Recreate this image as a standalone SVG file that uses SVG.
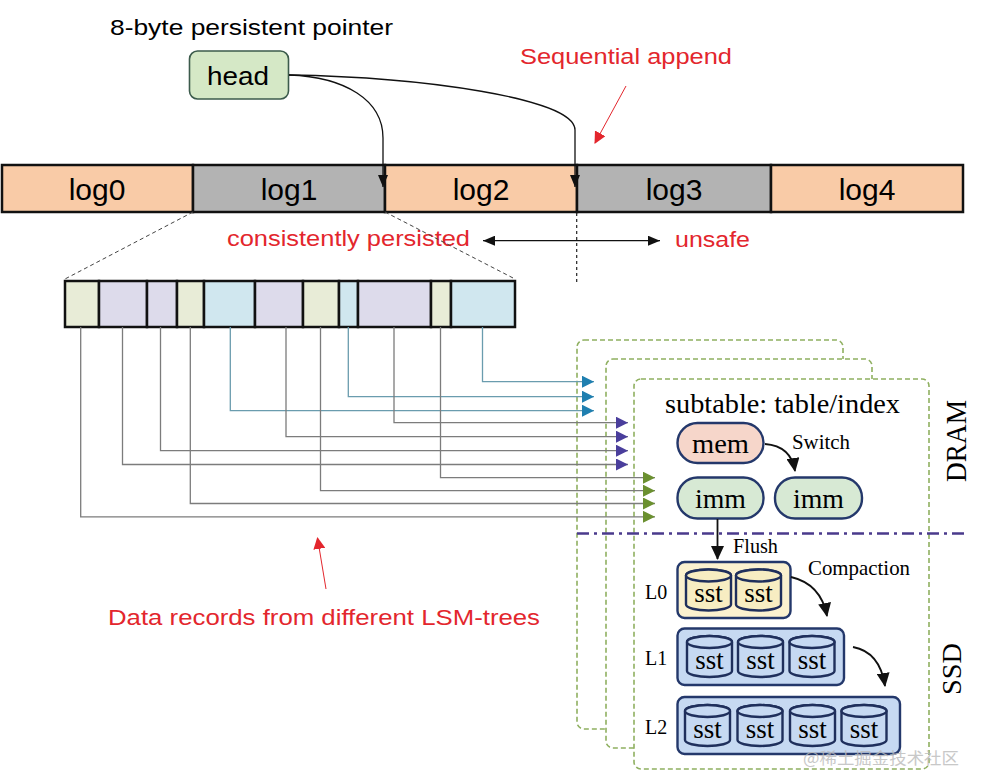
<svg xmlns="http://www.w3.org/2000/svg" width="984" height="784" viewBox="0 0 984 784">
<style>
.sans{font-family:"Liberation Sans","DejaVu Sans",sans-serif}
.serif{font-family:"Liberation Serif","DejaVu Serif",serif}
.red{fill:#e3262d}
.log{stroke:#111;stroke-width:2.5}
.peach{fill:#f9cba7}
.gray{fill:#b3b3b3}
.cell{stroke:#111;stroke-width:2.5}
.panel{fill:#fff;stroke:#8fb060;stroke-width:1.6;stroke-dasharray:5 3}
.conn{fill:none;stroke-width:1.3}
.tealc{stroke:#6a9cae}
.grayc{stroke:#7c7c7c}
.box{stroke:#24386b;stroke-width:2.4}
.cyl{stroke:#1f2f5c;stroke-width:2.4}
.blk{fill:none;stroke:#111;stroke-width:1.8}
</style>
<defs>
<marker id="mTeal" markerUnits="userSpaceOnUse" markerWidth="12" markerHeight="12" refX="12" refY="6" orient="auto"><path d="M0,0 L12,6 L0,12 Z" fill="#1f7fb0"/></marker>
<marker id="mPurple" markerUnits="userSpaceOnUse" markerWidth="12" markerHeight="12" refX="12" refY="6" orient="auto"><path d="M0,0 L12,6 L0,12 Z" fill="#4a3e9c"/></marker>
<marker id="mGreen" markerUnits="userSpaceOnUse" markerWidth="12" markerHeight="12" refX="12" refY="6" orient="auto"><path d="M0,0 L12,6 L0,12 Z" fill="#6b9030"/></marker>
<marker id="mBlack" markerUnits="userSpaceOnUse" markerWidth="12" markerHeight="10" refX="12" refY="5" orient="auto"><path d="M0,0 L12,5 L0,10 Z" fill="#111"/></marker>
<marker id="mBig" markerUnits="userSpaceOnUse" markerWidth="14" markerHeight="13" refX="13" refY="6.5" orient="auto"><path d="M0,0 L14,6.5 L0,13 Z" fill="#111"/></marker>
<marker id="mDbl" markerUnits="userSpaceOnUse" markerWidth="12" markerHeight="10" refX="12" refY="5" orient="auto-start-reverse"><path d="M0,0 L12,5 L0,10 Z" fill="#111"/></marker>
<marker id="mRed" markerUnits="userSpaceOnUse" markerWidth="12" markerHeight="12" refX="11" refY="6" orient="auto"><path d="M0,0 L12,6 L0,12 Z" fill="#e3262d"/></marker>
<g id="cylY"><path class="cyl" fill="#f7edc2" d="M0,6 V35 A22.5,6 0 0 0 45,35 V6 A22.5,6 0 0 0 0,6 Z"/><ellipse class="cyl" fill="#f7edc2" cx="22.5" cy="6" rx="22.5" ry="6"/></g>
<g id="cylB"><path class="cyl" fill="#c6d9f2" d="M0,6 V35 A22.5,6 0 0 0 45,35 V6 A22.5,6 0 0 0 0,6 Z"/><ellipse class="cyl" fill="#c6d9f2" cx="22.5" cy="6" rx="22.5" ry="6"/></g>
</defs>
<rect width="984" height="784" fill="#fff"/>

<!-- top -->
<text class="sans" x="110" y="35" font-size="22" textLength="283" lengthAdjust="spacingAndGlyphs">8-byte persistent pointer</text>
<g id="head">
<rect x="189.5" y="51" width="99" height="48" rx="8" fill="#d5e8c6" stroke="#3c5b4c" stroke-width="1.6"/>
<text class="sans" x="238" y="85" font-size="26" text-anchor="middle" textLength="62" lengthAdjust="spacingAndGlyphs">head</text>
</g>
<text class="sans red" x="520" y="64" font-size="22" textLength="212" lengthAdjust="spacingAndGlyphs">Sequential append</text>

<g id="logbar">
<g id="log0"><rect class="log peach" x="2" y="165" width="191" height="47"/><text class="sans" x="97" y="200" font-size="30" text-anchor="middle">log0</text></g>
<g id="log1"><rect class="log gray" x="193" y="165" width="192" height="47"/><text class="sans" x="289" y="200" font-size="30" text-anchor="middle">log1</text></g>
<g id="log2"><rect class="log peach" x="385" y="165" width="192" height="47"/><text class="sans" x="481" y="200" font-size="30" text-anchor="middle">log2</text></g>
<g id="log3"><rect class="log gray" x="577" y="165" width="194" height="47"/><text class="sans" x="674" y="200" font-size="30" text-anchor="middle">log3</text></g>
<g id="log4"><rect class="log peach" x="771" y="165" width="192" height="47"/><text class="sans" x="867" y="200" font-size="30" text-anchor="middle">log4</text></g>
</g>

<text class="sans red" x="227" y="246" font-size="22" textLength="243" lengthAdjust="spacingAndGlyphs">consistently persisted</text>
<text class="sans red" x="675" y="247" font-size="22" textLength="75" lengthAdjust="spacingAndGlyphs">unsafe</text>

<!-- record strip -->
<g id="records">
<rect class="cell" x="65" y="281" width="34" height="46" fill="#e8ecd7"/>
<rect class="cell" x="99" y="281" width="48" height="46" fill="#dddbeb"/>
<rect class="cell" x="147" y="281" width="30" height="46" fill="#dddbeb"/>
<rect class="cell" x="177" y="281" width="27" height="46" fill="#e8ecd7"/>
<rect class="cell" x="204" y="281" width="51" height="46" fill="#d0e7ef"/>
<rect class="cell" x="255" y="281" width="48" height="46" fill="#dddbeb"/>
<rect class="cell" x="303" y="281" width="36" height="46" fill="#e8ecd7"/>
<rect class="cell" x="339" y="281" width="19" height="46" fill="#d0e7ef"/>
<rect class="cell" x="358" y="281" width="73" height="46" fill="#dddbeb"/>
<rect class="cell" x="431" y="281" width="20" height="46" fill="#e8ecd7"/>
<rect class="cell" x="451" y="281" width="64" height="46" fill="#d0e7ef"/>
</g>

<!-- panels -->
<g id="panel1"><rect class="panel" x="577" y="340" width="266" height="389" rx="7"/></g>
<g id="panel2"><rect class="panel" x="606" y="359" width="266" height="389" rx="7"/></g>
<g id="panel3"><rect class="panel" x="634" y="379" width="295" height="390" rx="7"/></g>

<text class="serif" x="665" y="413" font-size="28" textLength="235" lengthAdjust="spacingAndGlyphs">subtable: table/index</text>

<g id="mem"><rect class="box" x="677.5" y="423" width="86" height="40" rx="20" fill="#f6d6ca"/><text class="serif" x="720.5" y="452.5" font-size="28" text-anchor="middle" textLength="57" lengthAdjust="spacingAndGlyphs">mem</text></g>
<g id="imm1"><rect class="box" x="677.5" y="477.5" width="86" height="41" rx="20" fill="#d7e9d4"/><text class="serif" x="720.5" y="508" font-size="28" text-anchor="middle" textLength="51" lengthAdjust="spacingAndGlyphs">imm</text></g>
<g id="imm2"><rect class="box" x="775" y="477.5" width="87" height="41" rx="20" fill="#d7e9d4"/><text class="serif" x="818.5" y="508" font-size="28" text-anchor="middle" textLength="51" lengthAdjust="spacingAndGlyphs">imm</text></g>
<text class="serif" x="792" y="448.5" font-size="20" textLength="58" lengthAdjust="spacingAndGlyphs">Switch</text>
<text class="serif" x="733" y="552.5" font-size="20" textLength="45" lengthAdjust="spacingAndGlyphs">Flush</text>
<text class="serif" x="808" y="574.5" font-size="21" textLength="102" lengthAdjust="spacingAndGlyphs">Compaction</text>

<text class="serif" x="645" y="598.5" font-size="20">L0</text>
<text class="serif" x="645" y="664.5" font-size="20">L1</text>
<text class="serif" x="645" y="734" font-size="20">L2</text>

<g id="L0">
<rect class="box" x="677.5" y="562" width="113" height="56" rx="7" fill="#fbf1cf"/>
<use href="#cylY" x="686" y="569.5"/><use href="#cylY" x="736" y="569.5"/>
<text class="serif" x="708.5" y="602" font-size="27" text-anchor="middle">sst</text>
<text class="serif" x="758.5" y="602" font-size="27" text-anchor="middle">sst</text>
</g>
<g id="L1">
<rect class="box" x="677.5" y="628.5" width="166.5" height="56.5" rx="7" fill="#c6d9f2"/>
<use href="#cylB" x="687" y="636"/><use href="#cylB" x="738" y="636"/><use href="#cylB" x="789.5" y="636"/>
<text class="serif" x="709.5" y="669" font-size="27" text-anchor="middle">sst</text>
<text class="serif" x="760.5" y="669" font-size="27" text-anchor="middle">sst</text>
<text class="serif" x="812" y="669" font-size="27" text-anchor="middle">sst</text>
</g>
<g id="L2">
<rect class="box" x="677.5" y="697" width="222.5" height="57" rx="7" fill="#c6d9f2"/>
<use href="#cylB" x="685" y="705"/><use href="#cylB" x="737.5" y="705"/><use href="#cylB" x="790" y="705"/><use href="#cylB" x="841.5" y="705"/>
<text class="serif" x="707.5" y="738" font-size="27" text-anchor="middle">sst</text>
<text class="serif" x="760" y="738" font-size="27" text-anchor="middle">sst</text>
<text class="serif" x="812.5" y="738" font-size="27" text-anchor="middle">sst</text>
<text class="serif" x="864" y="738" font-size="27" text-anchor="middle">sst</text>
</g>

<text class="serif" transform="translate(966,441) rotate(-90)" font-size="29" text-anchor="middle" textLength="82" lengthAdjust="spacingAndGlyphs">DRAM</text>
<text class="serif" transform="translate(961,669) rotate(-90)" font-size="28" text-anchor="middle" textLength="52" lengthAdjust="spacingAndGlyphs">SSD</text>

<text class="sans red" x="108" y="625" font-size="22" textLength="432" lengthAdjust="spacingAndGlyphs">Data records from different LSM-trees</text>

<text x="803" y="764" font-size="16" fill="#bbbbbb" opacity="0.8" font-family="'Noto Sans CJK SC','Noto Sans',sans-serif" textLength="156" lengthAdjust="spacingAndGlyphs">@稀土掘金技术社区</text>

<!-- connectors -->
<g id="connectors">
<path class="blk" style="stroke-width:1.3" d="M289,75 C345,77 383,100 383,138 L383,187" marker-end="url(#mBlack)"/>
<path class="blk" style="stroke-width:1.3" d="M289,75 C420,77 575,98 575,130 L575,187" marker-end="url(#mBlack)"/>
<path d="M626,86 L595,143" stroke="#e3262d" stroke-width="1" fill="none" marker-end="url(#mRed)"/>
<path d="M326,589 L317.5,538" stroke="#e3262d" stroke-width="1" fill="none" marker-end="url(#mRed)"/>
<path d="M483,240.7 L660,240.7" stroke="#111" stroke-width="1.3" fill="none" marker-start="url(#mDbl)" marker-end="url(#mDbl)"/>
<path d="M576.7,213 L576.7,282" stroke="#222" stroke-width="1.2" stroke-dasharray="3 3" fill="none"/>
<path d="M193,212 L65,279" stroke="#444" stroke-width="1" stroke-dasharray="4 3" fill="none"/>
<path d="M385,212 L515,279" stroke="#444" stroke-width="1" stroke-dasharray="4 3" fill="none"/>

<path class="conn tealc" d="M482.5,327 V381.7 H594" marker-end="url(#mTeal)"/>
<path class="conn tealc" d="M348.3,327 V396.7 H594" marker-end="url(#mTeal)"/>
<path class="conn tealc" d="M230.3,327 V410.7 H594" marker-end="url(#mTeal)"/>
<path class="conn grayc" d="M394,327 V422.7 H628" marker-end="url(#mPurple)"/>
<path class="conn grayc" d="M286,327 V436.7 H628" marker-end="url(#mPurple)"/>
<path class="conn grayc" d="M160.5,327 V450.7 H628" marker-end="url(#mPurple)"/>
<path class="conn grayc" d="M122.5,327 V464.5 H628" marker-end="url(#mPurple)"/>
<path class="conn grayc" d="M440.5,327 V477.7 H655" marker-end="url(#mGreen)"/>
<path class="conn grayc" d="M320.5,327 V490.7 H655" marker-end="url(#mGreen)"/>
<path class="conn grayc" d="M190.3,327 V503.5 H655" marker-end="url(#mGreen)"/>
<path class="conn grayc" d="M80.7,327 V516.8 H655" marker-end="url(#mGreen)"/>

<path d="M577,533.5 H968" stroke="#4a3a8c" stroke-width="2.5" stroke-dasharray="12 5 3 5" fill="none"/>

<path class="blk" d="M765,444 Q791,446 795,471" marker-end="url(#mBig)"/>
<path class="blk" d="M717.5,519 V559" marker-end="url(#mBig)"/>
<path class="blk" d="M791,577 Q821,584 827,616" marker-end="url(#mBig)"/>
<path class="blk" d="M853,647 Q880,652 885,686" marker-end="url(#mBig)"/>
</g>
</svg>
